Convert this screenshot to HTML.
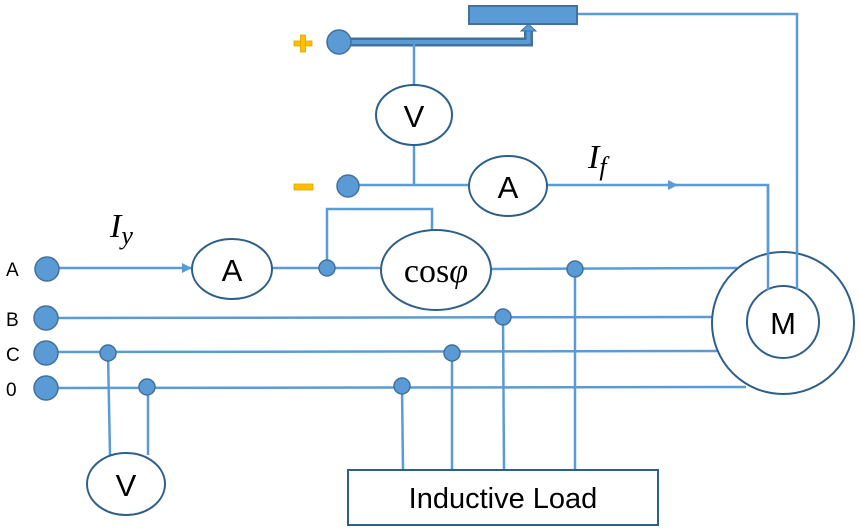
<!DOCTYPE html>
<html><head><style>
html,body{margin:0;padding:0;background:#fff;width:860px;height:531px;overflow:hidden}
</style></head><body>
<svg width="860" height="531" viewBox="0 0 860 531" xmlns="http://www.w3.org/2000/svg" style="font-family:'Liberation Sans',sans-serif">
<defs>
<marker id="ar" markerWidth="10" markerHeight="10" refX="9" refY="5" orient="auto" markerUnits="userSpaceOnUse">
<path d="M0,0 L10,5 L0,10 z" fill="#5b9bd5"/></marker>
</defs>
<g stroke="#5b9bd5" stroke-width="2.5" fill="none">
<polyline points="577,14 797,14 797,295"/>
<path d="M345,42 L528.5,42 L528.5,30" stroke="#41719c" stroke-width="9"/>
<path d="M345,42 L528.5,42 L528.5,30" stroke="#5b9bd5" stroke-width="4"/>
<line x1="414" y1="42" x2="414" y2="85"/>
<line x1="414" y1="145" x2="414" y2="185"/>
<line x1="358" y1="185" x2="470" y2="185"/>
<line x1="547" y1="185" x2="677" y2="185" marker-end="url(#ar)"/>
<polyline points="670,185 768,185 768,290"/>
<line x1="55" y1="268" x2="191" y2="268" marker-end="url(#ar)"/>
<line x1="272" y1="268" x2="380" y2="268"/>
<polyline points="327,268 327,209 432,209 432,231"/>
<line x1="490" y1="269" x2="737" y2="268"/>
<line x1="575" y1="269" x2="575" y2="470"/>
<line x1="55" y1="318" x2="712" y2="317"/>
<line x1="503" y1="317" x2="504" y2="470"/>
<line x1="55" y1="352" x2="723" y2="351"/>
<line x1="108" y1="353" x2="110" y2="455"/>
<line x1="452" y1="352" x2="452" y2="470"/>
<line x1="55" y1="388" x2="746" y2="387"/>
<line x1="148" y1="387" x2="148" y2="455"/>
<line x1="402" y1="387" x2="403" y2="470"/>
</g>
<path d="M521,31 L528.5,24 L536,31 z" fill="#5b9bd5" stroke="#41719c" stroke-width="1"/>
<rect x="469" y="6" width="108" height="18" fill="#5b9bd5" stroke="#41719c" stroke-width="2"/>
<g fill="#5b9bd5" stroke="#41719c" stroke-width="1.5">
<circle cx="339" cy="42" r="12"/>
<circle cx="348" cy="186" r="11"/>
<circle cx="47" cy="269" r="12"/>
<circle cx="46" cy="318" r="12"/>
<circle cx="46" cy="353" r="12"/>
<circle cx="46" cy="388" r="12"/>
<circle cx="327" cy="268" r="8"/>
<circle cx="575" cy="269" r="8"/>
<circle cx="503" cy="317" r="8"/>
<circle cx="452" cy="353" r="8"/>
<circle cx="402" cy="386" r="8"/>
<circle cx="108" cy="353" r="8"/>
<circle cx="147" cy="387" r="8"/>
</g>
<g fill="#ffc000" stroke="#d9a400" stroke-width="0.8">
<rect x="294" y="41" width="18" height="5"/>
<rect x="300.5" y="35" width="5" height="17"/>
<rect x="294" y="184" width="19" height="6"/>
</g>
<g fill="#fff" stroke="#2e5f8a" stroke-width="2">
<ellipse cx="414" cy="115" rx="38" ry="30"/>
<ellipse cx="508" cy="186" rx="39" ry="30"/>
<ellipse cx="232" cy="269" rx="40" ry="30"/>
<ellipse cx="436" cy="270" rx="55" ry="40"/>
<ellipse cx="126" cy="484" rx="39" ry="31"/>
<circle cx="783" cy="323" r="71"/>
<circle cx="783" cy="322" r="36"/>
<rect x="348" y="470" width="310" height="55"/>
</g>
<line x1="768" y1="185" x2="768" y2="290" stroke="#5b9bd5" stroke-width="2.5"/>
<line x1="797" y1="250" x2="797" y2="290" stroke="#5b9bd5" stroke-width="2.5"/>
<g font-size="31" text-anchor="middle" fill="#000">
<text x="414" y="127">V</text>
<text x="508" y="198">A</text>
<text x="232" y="281">A</text>
<text x="126" y="496">V</text>
<text x="783" y="334">M</text>
<text x="503" y="508" font-size="29">Inductive Load</text>
</g>
<text x="436" y="282" text-anchor="middle" style="font-family:'Liberation Serif',serif;font-size:34px">cos<tspan style="font-style:italic">φ</tspan></text>
<g font-size="19" fill="#000">
<text x="6" y="276">A</text>
<text x="6" y="326">B</text>
<text x="6" y="361">C</text>
<text x="6" y="396">0</text>
</g>
<text x="110" y="237" style="font-family:'Liberation Serif',serif;font-size:34px;font-style:italic">I<tspan style="font-size:26px" dy="7">y</tspan></text>
<text x="588" y="168" style="font-family:'Liberation Serif',serif;font-size:34px;font-style:italic">I<tspan style="font-size:26px" dy="7">f</tspan></text>
</svg>
</body></html>
